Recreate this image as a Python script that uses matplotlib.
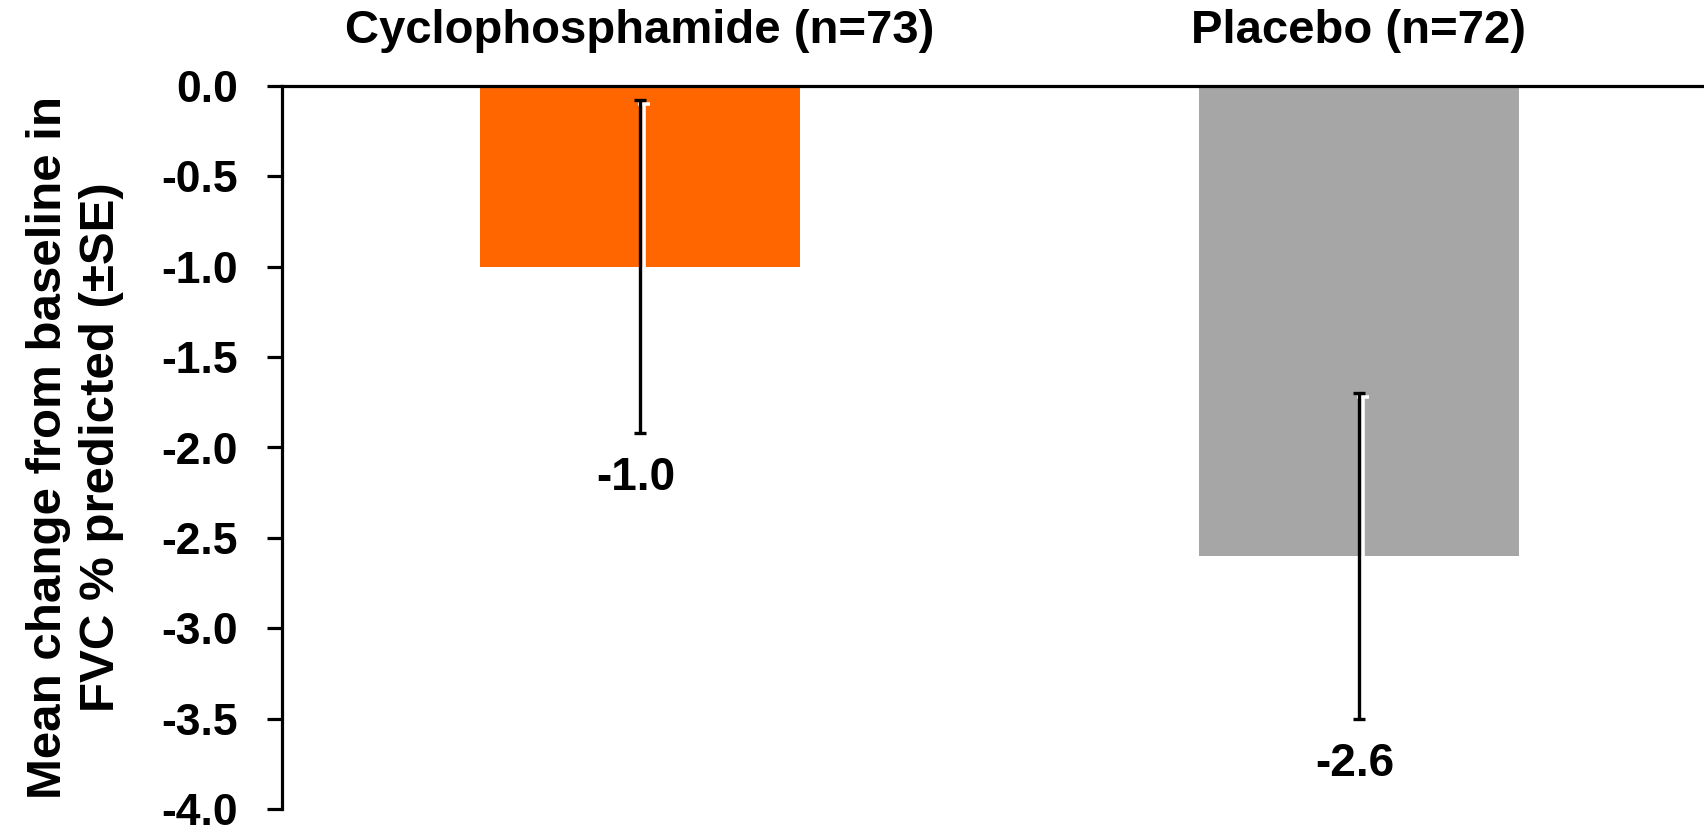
import matplotlib
matplotlib.use("Agg")
import matplotlib.pyplot as plt
import matplotlib.transforms as mtransforms

plt.rcParams['font.family'] = ['Liberation Sans', 'DejaVu Sans']
plt.rcParams['font.weight'] = 'bold'

# data
groups = ["Cyclophosphamide (n=73)", "Placebo (n=72)"]
means = [-1.0, -2.6]
se = [0.92, 0.9]
value_labels = ["-1.0", "-2.6"]
bar_colors = ["#FF6600", "#A6A6A6"]
yticks = [0.0, -0.5, -1.0, -1.5, -2.0, -2.5, -3.0, -3.5, -4.0]

fig = plt.figure(figsize=(17.04, 8.30), dpi=100)
ax = fig.add_axes([282 / 1704, 1 - 809 / 830, 1 - 282 / 1704, (809 - 86) / 830])

x = list(range(len(groups)))
ax.bar(x, means, width=0.445, color=bar_colors, zorder=1)

# white offset "shadow" of the error bars, then the black ones
shadow = ax.transData + mtransforms.ScaledTranslation(4 / 100, -4 / 100, fig.dpi_scale_trans)
ax.errorbar(x, means, yerr=se, fmt='none', ecolor='white', elinewidth=2.6,
            capsize=4.5, capthick=2.6, transform=shadow, zorder=2)
ax.errorbar(x, means, yerr=se, fmt='none', ecolor='black', elinewidth=2.4,
            capsize=4.5, capthick=2.4, zorder=3)

# value labels under the error bars
for xi, m, s, lab in zip(x, means, se, value_labels):
    ax.annotate(lab, xy=(xi, m - s), xytext=(-3, -32.5), textcoords='offset points',
                ha='center', va='center', fontsize=33, fontweight='bold')

# group titles above the plot
trans = mtransforms.blended_transform_factory(ax.transData, ax.transAxes)
for xi, g in zip(x, groups):
    ax.text(xi, 1.076, g, transform=trans, ha='center', va='center',
            fontsize=34, fontweight='bold')

ax.set_xlim(-0.498, 1.48)
ax.set_ylim(-4.0, 0.0)
ax.set_yticks(yticks)
ax.set_yticklabels(["%.1f" % t for t in yticks], fontsize=32, fontweight='bold')
ax.set_xticks([])

for side in ['bottom', 'right']:
    ax.spines[side].set_visible(False)
for side in ['top', 'left']:
    ax.spines[side].set_linewidth(2.3)
ax.tick_params(axis='y', direction='out', length=10.8, width=2.3, pad=21)

ax.set_ylabel("Mean change from baseline in\nFVC % predicted (±SE)", fontsize=35.5,
              fontweight='bold', linespacing=1.22, labelpad=27)

fig.savefig("out.png", dpi=100)
